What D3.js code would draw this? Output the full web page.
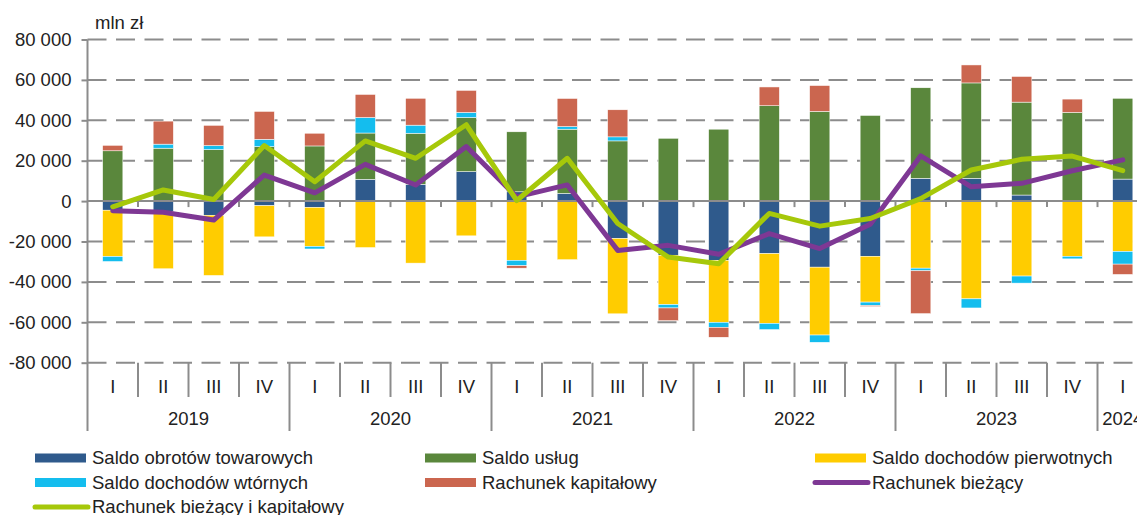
<!DOCTYPE html>
<html lang="pl">
<head>
<meta charset="utf-8">
<title>Bilans płatniczy – saldo rachunku bieżącego i kapitałowego</title>
<script src="https://cdn.jsdelivr.net/npm/d3@7"></script>
<style>
  html, body { margin: 0; padding: 0; background: #fff; overflow: hidden; }
  svg { display: block; font-family: "Liberation Sans", Arial, sans-serif; }
  text { fill: #222; }
</style>
</head>
<body>
<svg id="chart" width="1137" height="515"></svg>
<script>
// Quarterly periods (year, quarter)
const periodYears = ['2019','2019','2019','2019','2020','2020','2020','2020','2021','2021','2021','2021',
                     '2022','2022','2022','2022','2023','2023','2023','2023','2024'];
const periodQuarters = ['I','II','III','IV','I','II','III','IV','I','II','III','IV',
                        'I','II','III','IV','I','II','III','IV','I'];
const years = ['2019','2020','2021','2022','2023','2024'];
const yTicks = [-80000, -60000, -40000, -20000, 0, 20000, 40000, 60000, 80000];

// Balances, mln zł
const goodsBalance     = [-4500, -5300, -7000, -2300, -3100, 10800, 8300, 14600, 4600, 3800, -18500, -26800,
                          -29300, -26000, -32700, -27300, 11300, 11300, 3000, 0, 10900];
const servicesBalance  = [24900, 26200, 25500, 27000, 27300, 22900, 25300, 26800, 29700, 31800, 29800, 31100,
                          35600, 47200, 44400, 42400, 44800, 47200, 46000, 43900, 40000];
const primaryIncome    = [-22900, -28200, -29800, -15400, -19300, -23000, -30700, -17200, -29300, -29000, -37300, -24400,
                          -30700, -34500, -33600, -22700, -33200, -48400, -37100, -27300, -24900];
const secondaryIncome  = [-2500, 2000, 2000, 3600, -1300, 7700, 4000, 2500, -2700, 1300, 2000, -1700,
                          -2500, -3100, -3600, -1700, -1300, -4500, -3500, -1300, -6300];
const capitalAccount   = [2700, 11400, 10000, 13800, 6300, 11400, 13300, 10900, -1200, 13900, 13400, -6300,
                          -4900, 9300, 12800, -500, -21200, 8900, 12700, 6600, -5100];
const currentAccount   = [-4800, -5500, -9400, 12900, 4100, 18200, 8000, 27000, 2100, 8000, -24400, -21900,
                          -26300, -16100, -23500, -11500, 22400, 7100, 8800, 15000, 20400];
const currentAndCapital = [-2800, 5500, 800, 27500, 9600, 29800, 21200, 37800, 300, 21200, -11100, -27700,
                          -31000, -6100, -12400, -8600, 1200, 15400, 20700, 22300, 15100];

const barSeries = [
  { key: 'goods',     label: 'Saldo obrotów towarowych',   values: goodsBalance,    color: '#2f5a8c' },
  { key: 'services',  label: 'Saldo usług',                values: servicesBalance, color: '#5a873c' },
  { key: 'primary',   label: 'Saldo dochodów pierwotnych', values: primaryIncome,   color: '#ffcc00' },
  { key: 'secondary', label: 'Saldo dochodów wtórnych',    values: secondaryIncome, color: '#14bdee' },
  { key: 'capital',   label: 'Rachunek kapitałowy',        values: capitalAccount,  color: '#cb664f' }
];
const lineSeries = [
  { key: 'current',  label: 'Rachunek bieżący',               values: currentAccount,    color: '#7e3894' },
  { key: 'currcap',  label: 'Rachunek bieżący i kapitałowy',  values: currentAndCapital, color: '#a6c80a' }
];

const periods = periodYears.map((yr, i) => yr + ' ' + periodQuarters[i]);

const svg = d3.select('#chart');
const W = 1137;
const axisX = 87.5;
const step = 50.5;
const gridColor = '#8c8c8c';

const x = d3.scaleBand().domain(periods).range([axisX, axisX + periods.length * step]).padding(0);
const y = d3.scaleLinear().domain([-80000, 80000]).range([362.7, 39.5]);
const barW = x.bandwidth() * 0.4;

const fmt = d3.formatLocale({ decimal: ',', thousands: '\u00a0', grouping: [3], currency: ['', ' zł'], minus: '-' }).format(',d');

// Horizontal gridlines (dashed) and left tick marks
const grid = svg.append('g');
grid.selectAll('line.grid').data(yTicks.filter(v => v !== 0)).join('line')
  .attr('x1', axisX).attr('x2', W)
  .attr('y1', d => y(d)).attr('y2', d => y(d))
  .attr('stroke', gridColor).attr('stroke-width', 2)
  .attr('stroke-dasharray', '19,9.5');

const yAxis = d3.axisLeft(y).tickValues(yTicks).tickSize(6).tickPadding(10).tickFormat(fmt);
const yg = svg.append('g').attr('transform', `translate(${axisX},0)`).call(yAxis);
yg.select('.domain').remove();
yg.selectAll('.tick line').attr('stroke', gridColor).attr('stroke-width', 2);
yg.selectAll('.tick text').attr('font-size', 18.5).attr('fill', '#222')
  .attr('font-family', '"Liberation Sans", Arial, sans-serif');

// Unit label
svg.append('text').attr('x', 95).attr('y', 29).attr('font-size', 18.5).text('mln zł');

// Stacked bars (positive and negative parts stacked separately)
const rows = periods.map((p, i) => {
  const r = { period: p };
  barSeries.forEach(s => { r[s.key] = s.values[i]; });
  return r;
});
const stacked = d3.stack().keys(barSeries.map(s => s.key)).offset(d3.stackOffsetDiverging)(rows);

svg.append('g').selectAll('g').data(stacked).join('g')
  .attr('fill', (d, i) => barSeries[i].color)
  .selectAll('rect').data(d => d).join('rect')
  .attr('x', d => x(d.data.period) + (x.bandwidth() - barW) / 2)
  .attr('width', barW)
  .attr('y', d => y(Math.max(d[0], d[1])))
  .attr('height', d => Math.abs(y(d[0]) - y(d[1])))
  .attr('stroke', '#fff').attr('stroke-width', 0.5);

// Zero axis line with small downward ticks between quarters
svg.append('line').attr('x1', axisX).attr('x2', W).attr('y1', y(0)).attr('y2', y(0))
  .attr('stroke', gridColor).attr('stroke-width', 2);
svg.append('g').selectAll('line').data(periods.slice(1)).join('line')
  .attr('x1', d => x(d)).attr('x2', d => x(d))
  .attr('y1', y(0)).attr('y2', y(0) + 6)
  .attr('stroke', gridColor).attr('stroke-width', 2);

// Vertical axis line, running down through the category label area
svg.append('line').attr('x1', axisX).attr('x2', axisX).attr('y1', y(80000)).attr('y2', 431)
  .attr('stroke', gridColor).attr('stroke-width', 2);

// Category separators: short between quarters, long between years
const bottom = y(-80000);
svg.append('g').selectAll('line').data(periods.slice(1)).join('line')
  .attr('x1', d => x(d)).attr('x2', d => x(d))
  .attr('y1', bottom)
  .attr('y2', d => d.endsWith(' I') ? 431 : 397)
  .attr('stroke', gridColor).attr('stroke-width', 2);

// Quarter labels
svg.append('g').selectAll('text').data(periods).join('text')
  .attr('x', d => x(d) + x.bandwidth() / 2)
  .attr('y', 387)
  .attr('dy', '0.35em')
  .attr('text-anchor', 'middle')
  .attr('font-size', 18.5)
  .text((d, i) => periodQuarters[i]);

// Year labels centred under their quarters
svg.append('g').selectAll('text').data(years).join('text')
  .attr('x', yr => {
    const ps = periods.filter((p, i) => periodYears[i] === yr);
    return (x(ps[0]) + x(ps[ps.length - 1]) + x.bandwidth()) / 2;
  })
  .attr('y', 418.5)
  .attr('dy', '0.35em')
  .attr('text-anchor', 'middle')
  .attr('font-size', 18.5)
  .text(d => d);

// Lines
const line = d3.line()
  .x((d, i) => x(periods[i]) + x.bandwidth() / 2)
  .y(d => y(d));
svg.append('g').selectAll('path').data(lineSeries).join('path')
  .attr('d', s => line(s.values))
  .attr('fill', 'none')
  .attr('stroke', s => s.color)
  .attr('stroke-width', 5)
  .attr('stroke-linejoin', 'round')
  .attr('stroke-linecap', 'round');

// Legend
const legendItems = [
  { s: barSeries[0], type: 'bar',  col: 0, row: 0 },
  { s: barSeries[1], type: 'bar',  col: 1, row: 0 },
  { s: barSeries[2], type: 'bar',  col: 2, row: 0 },
  { s: barSeries[3], type: 'bar',  col: 0, row: 1 },
  { s: barSeries[4], type: 'bar',  col: 1, row: 1 },
  { s: lineSeries[0], type: 'line', col: 2, row: 1 },
  { s: lineSeries[1], type: 'line', col: 0, row: 2 }
];
const colX = [35, 425, 815];
const rowY = [458, 482.5, 507];
const lg = svg.append('g').selectAll('g').data(legendItems).join('g')
  .attr('transform', d => `translate(${colX[d.col]},${rowY[d.row]})`);
lg.filter(d => d.type === 'bar').append('rect')
  .attr('x', 0).attr('y', -4.5).attr('width', 51).attr('height', 9)
  .attr('fill', d => d.s.color);
lg.filter(d => d.type === 'line').append('line')
  .attr('x1', 0).attr('x2', 53).attr('y1', 0).attr('y2', 0)
  .attr('stroke', d => d.s.color).attr('stroke-width', 5).attr('stroke-linecap', 'round');
lg.append('text')
  .attr('x', 57).attr('dy', '0.35em')
  .attr('font-size', 18.5)
  .text(d => d.s.label);
</script>
</body>
</html>
